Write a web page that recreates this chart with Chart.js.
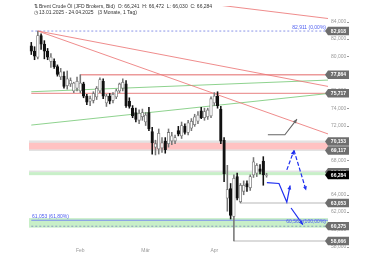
<!DOCTYPE html>
<html>
<head>
<meta charset="utf-8">
<script src="https://cdn.jsdelivr.net/npm/chart.js@4.4.1/dist/chart.umd.min.js"></script>
<style>
  html, body { margin: 0; padding: 0; background: #fff; }
  canvas { display: block; }
</style>
</head>
<body>
<canvas id="chart" width="380" height="254"></canvas>
<script>
// trading days 13.01.2025 - 24.04.2025
const dates = [
  "13.01", "14.01", "15.01", "16.01", "17.01", "20.01", "21.01", "22.01", "23.01", "24.01",
  "27.01", "28.01", "29.01", "30.01", "31.01",
  "03.02", "04.02", "05.02", "06.02", "07.02", "10.02", "11.02", "12.02", "13.02", "14.02",
  "17.02", "18.02", "19.02", "20.02", "21.02", "24.02", "25.02", "26.02", "27.02", "28.02",
  "03.03", "04.03", "05.03", "06.03", "07.03", "10.03", "11.03", "12.03", "13.03", "14.03",
  "17.03", "18.03", "19.03", "20.03", "21.03", "24.03", "25.03", "26.03", "27.03", "28.03", "31.03",
  "01.04", "02.04", "03.04", "04.04", "07.04", "08.04", "09.04", "10.04", "11.04",
  "14.04", "15.04", "16.04", "17.04", "18.04", "22.04", "23.04", "24.04"
];
const opens = [
  81.2, 80.6, 79.9, 82.4, 81.4, 80.6, 79.4, 79.4, 78.8, 77.6,
  77.7, 76.6, 76.8, 76.0, 76.3, 76.0, 76.8, 75.4, 74.8, 74.9,
  75.3, 76.0, 77.1, 74.6, 75.4, 74.9, 75.3, 76.0, 76.3, 76.8,
  74.8, 74.0, 73.5, 72.6, 73.0, 72.4, 73.5, 71.3, 69.5, 69.3,
  69.4, 70.2, 69.9, 70.2, 70.2, 71.4, 70.8, 71.9, 71.2, 71.7,
  72.1, 72.5, 73.7, 72.9, 73.0, 73.1, 74.6, 75.4, 73.9, 70.3,
  63.6, 64.7, 61.5, 66.1, 63.2, 64.4, 65.3, 64.8, 66.3, 66.5,
  67.0, 67.9, 66.241
];
const highs = [
  81.6, 81.1, 82.918, 82.6, 81.8, 80.9, 80.3, 79.7, 79.0, 78.6,
  78.2, 78.3, 77.5, 77.0, 77.6, 77.864, 77.0, 75.6, 75.4, 75.9,
  76.5, 77.5, 77.4, 75.6, 75.7, 75.8, 76.2, 76.9, 77.4, 77.2,
  75.2, 74.3, 74.0, 73.8, 73.9, 73.5, 74.1, 71.8, 70.3, 71.6,
  70.6, 70.6, 71.6, 71.2, 70.9, 71.9, 72.4, 72.2, 72.6, 72.8,
  73.3, 73.6, 74.1, 74.0, 74.0, 75.3, 75.8, 75.9, 74.2, 70.6,
  67.4, 65.3, 66.3, 66.5, 65.3, 65.6, 65.6, 66.3, 68.3, 67.6,
  67.5, 68.4, 66.472
];
const lows = [
  80.2, 79.6, 79.7, 80.8, 79.7, 79.6, 78.7, 78.6, 77.7, 77.3,
  76.3, 76.2, 76.5, 75.8, 76.0, 75.8, 75.2, 74.4, 74.3, 74.6,
  75.0, 75.8, 75.1, 74.2, 74.5, 74.6, 75.1, 75.8, 76.0, 74.1,
  74.0, 72.9, 72.4, 72.2, 72.6, 72.0, 71.4, 68.7, 68.6, 68.7,
  68.9, 68.8, 69.5, 69.8, 69.9, 70.8, 70.5, 71.0, 70.9, 71.4,
  71.9, 72.2, 72.8, 72.6, 72.7, 72.9, 74.3, 74.0, 69.9, 65.5,
  62.1, 61.2, 58.666, 63.4, 63.053, 64.0, 64.4, 64.5, 66.0, 66.1,
  66.4, 65.1, 66.030
];
const closes = [
  80.6, 80.0, 82.4, 81.4, 80.6, 79.9, 79.9, 78.8, 77.9, 78.2,
  76.5, 77.4, 77.2, 76.9, 77.1, 76.9, 75.4, 74.7, 75.1, 75.7,
  76.3, 77.3, 75.4, 75.4, 74.8, 75.6, 76.0, 76.8, 77.0, 74.3,
  74.2, 73.1, 72.7, 73.4, 73.5, 73.2, 71.6, 70.0, 69.9, 71.1,
  70.0, 69.2, 71.2, 70.8, 70.6, 71.0, 72.0, 71.2, 72.3, 72.5,
  73.0, 73.2, 72.9, 73.6, 73.8, 75.1, 75.4, 74.3, 70.2, 66.4,
  64.6, 61.6, 65.9, 63.6, 65.1, 65.1, 64.9, 66.1, 67.8, 67.4,
  66.7, 66.3, 66.284
];

const monthLabels = ["Feb", "Mär", "Apr"];
const monthStarts = ["03.02", "03.03", "01.04"];
const yTicks = [58, 60, 62, 64, 66, 68, 70, 72, 74, 76, 78, 80, 82, 84];

// price levels shown as boxes on the right axis
const levelValues = [82.918, 77.864, 75.717, 70.153, 69.117, 66.617, 63.053, 60.375, 58.666];
const lastPrice = 66.284;

// drawn zones and lines (index, price)
const resistanceZone = [70.153, 69.117];
const supportZone = [66.617, 66.264];
const fibZone = [61.3, 60.2];
const fib0 = 82.911;
const fib618 = 61.053;
const fib100 = 60.565;
const redLevels = [[15, 77.864], [0, 75.717]];
const grayLevels = [[64, 63.053], [62, 58.666]];
const redTrends = [
  [[2, 82.918], [91, 76.5]],
  [[2, 82.918], [91, 71.0]],
  [[50, 86.25], [91, 84.35]]
];
const greenTrends = [
  [[0, 75.9], [91, 77.25]],
  [[0, 72.05], [91, 75.7]]
];
const grayArrow = [[72.4, 70.93], [77.6, 70.93], [81.3, 72.73]];
const blueArrow1 = [[72.1, 65.4], [75.8, 65.3], [78.2, 63.15], [79.2, 65.07]];
const blueArrow2 = [[79.5, 62.47], [83.1, 60.55]];
const dashUp = [[78.2, 66.87], [80.4, 69.12]];
const dashDown = [[80.4, 69.12], [84.1, 64.5]];

const fmt = v => v.toFixed(3).replace(".", ",");
const pts = arr => arr.map(p => ({ x: p[0], y: p[1] }));
const FONT = "'Liberation Sans', Arial, sans-serif";

function lineSet(points, color, width, extra) {
  return Object.assign({
    type: "line", data: pts(points), borderColor: color, borderWidth: width,
    pointRadius: 0, tension: 0, fill: false, order: 3
  }, extra || {});
}

const datasets = [];
redTrends.forEach(t => datasets.push(lineSet(t, "rgba(236,120,120,0.85)", 1)));
greenTrends.forEach(t => datasets.push(lineSet(t, "rgba(130,205,130,0.9)", 1)));

datasets.push({
  type: "bar",
  data: lows.map((l, i) => ({ x: i, y: [l, highs[i]] })),
  backgroundColor: closes.map((c, i) => c >= opens[i] ? "#777" : "#111"),
  barThickness: 0.9, grouped: false, order: 2
});
datasets.push({
  type: "bar",
  data: opens.map((o, i) => ({ x: i, y: [o, closes[i]] })),
  backgroundColor: closes.map((c, i) => c >= opens[i] ? "#fff" : "#111"),
  borderColor: closes.map((c, i) => c >= opens[i] ? "#777" : "#111"),
  borderWidth: 0.8, borderSkipped: false,
  barThickness: 2.6, grouped: false, order: 1
});

datasets.push(lineSet(grayArrow, "#666", 1.1, { order: 0, arrow: true }));
datasets.push(lineSet(blueArrow1, "#1f2ff0", 1.2, { order: 0, arrow: true }));
datasets.push(lineSet(blueArrow2, "#1f2ff0", 1.2, { order: 0, arrow: true }));
datasets.push(lineSet(dashUp, "#1f2ff0", 1.2, { order: 0, arrow: true, borderDash: [4, 2] }));
datasets.push(lineSet(dashDown, "#1f2ff0", 1.2, { order: 0, arrow: true, borderDash: [4, 2] }));

const overlay = {
  id: "overlay",
  beforeDatasetsDraw(chart) {
    const { ctx, chartArea: a, scales: { x, y } } = chart;
    ctx.save();
    const band = (top, bottom, color) => {
      const y1 = y.getPixelForValue(top), y2 = y.getPixelForValue(bottom);
      ctx.fillStyle = color;
      ctx.fillRect(a.left, y1, a.right - a.left, y2 - y1);
    };
    const hline = (from, v, color, w, dash) => {
      const py = y.getPixelForValue(v);
      ctx.strokeStyle = color; ctx.lineWidth = w; ctx.setLineDash(dash || []);
      ctx.beginPath();
      ctx.moveTo(Math.max(a.left, x.getPixelForValue(from)), py);
      ctx.lineTo(a.right, py); ctx.stroke();
      ctx.setLineDash([]);
    };
    // resistance zone: grey edges, red core
    band(resistanceZone[0] + 0.12, resistanceZone[1] - 0.06, "#e2e2e2");
    band(resistanceZone[0] - 0.15, resistanceZone[1] + 0.12, "#ffc2c2");
    // support zone
    band(supportZone[0] + 0.18, supportZone[0], "#e2e2e2");
    band(supportZone[0], supportZone[1], "#c8efc8");
    // fib zone
    band(fibZone[0], fibZone[1], "#c8efc8");
    hline(0, fib618, "#7a8cf0", 1.2);
    hline(0, fib100 - 0.2, "#8a9ac0", 1, [2, 2]);
    hline(0, fib0, "#8a94e8", 1, [2, 2]);
    redLevels.forEach(l => hline(l[0], l[1], "#ec9a9a", 1.3));
    grayLevels.forEach(l => hline(l[0], l[1], "#cfcfcf", 1.5));
    ctx.restore();
  },
  afterDatasetsDraw(chart) {
    const { ctx } = chart;
    ctx.save();
    chart.data.datasets.forEach((ds, i) => {
      if (!ds.arrow) return;
      const m = chart.getDatasetMeta(i).data;
      const p1 = m[m.length - 2], p2 = m[m.length - 1];
      const ang = Math.atan2(p2.y - p1.y, p2.x - p1.x);
      const s = 4.5;
      ctx.fillStyle = ds.borderColor;
      ctx.beginPath();
      ctx.moveTo(p2.x, p2.y);
      ctx.lineTo(p2.x - s * Math.cos(ang - 0.45), p2.y - s * Math.sin(ang - 0.45));
      ctx.lineTo(p2.x - s * Math.cos(ang + 0.45), p2.y - s * Math.sin(ang + 0.45));
      ctx.closePath(); ctx.fill();
    });
    ctx.restore();
  },
  afterDraw(chart) {
    const { ctx, chartArea: a, scales: { y } } = chart;
    ctx.save();
    // fib labels
    ctx.font = "5px " + FONT;
    ctx.fillStyle = "#4c5cf0";
    ctx.textAlign = "left";
    ctx.fillText(fmt(fib618) + " (61,80%)", a.left + 3, y.getPixelForValue(fib618) - 2);
    ctx.textAlign = "right";
    ctx.fillText(fmt(fib0) + " (0,00%)", a.right - 2, y.getPixelForValue(fib0) - 2);
    ctx.fillText(fmt(fib100) + " (100,00%)", a.right - 2, y.getPixelForValue(fib100) - 1);
    // tick dashes
    ctx.strokeStyle = "#999"; ctx.lineWidth = 1;
    yTicks.forEach(v => {
      const py = Math.round(y.getPixelForValue(v)) + 0.5;
      ctx.beginPath(); ctx.moveTo(a.right + 19, py); ctx.lineTo(a.right + 21, py); ctx.stroke();
    });
    // price boxes
    const box = (v, fill) => {
      const py = y.getPixelForValue(v);
      const l = a.right, r = a.right + 21, h = 4.2;
      ctx.fillStyle = fill;
      ctx.beginPath();
      ctx.moveTo(l - 3, py); ctx.lineTo(l, py - h); ctx.lineTo(r, py - h);
      ctx.lineTo(r, py + h); ctx.lineTo(l, py + h); ctx.closePath(); ctx.fill();
      ctx.fillStyle = "#fff"; ctx.font = "bold 5px " + FONT;
      ctx.textAlign = "center"; ctx.textBaseline = "middle";
      ctx.fillText(fmt(v), (l + r) / 2, py + 0.3);
    };
    levelValues.forEach(v => box(v, "#6e6e6e"));
    box(lastPrice, "#000");
    // header
    ctx.textBaseline = "alphabetic"; ctx.textAlign = "left";
    ctx.fillStyle = "#333"; ctx.font = "5px " + FONT;
    ctx.fillText("⇅", 34, 7.5);
    ctx.fillText("Brent Crude Öl (JFD Brokers, Bid)  O: 66,241  H: 66,472  L: 66,030  C: 66,284", 39, 7.5);
    ctx.fillText("◷", 34, 14);
    ctx.fillText("13.01.2025 - 24.04.2025   (3 Monate, 1 Tag)", 39, 14);
    ctx.restore();
  }
};

new Chart(document.getElementById("chart"), {
  type: "bar",
  data: { datasets: datasets },
  options: {
    responsive: false,
    animation: false,
    layout: { padding: { left: 29, top: 0, right: 0, bottom: 0 } },
    plugins: { legend: { display: false }, tooltip: { enabled: false } },
    scales: {
      x: {
        type: "linear", min: -0.7, max: 90.8, offset: false,
        grid: { display: false, drawTicks: false }, border: { display: false },
        afterBuildTicks: s => { s.ticks = monthStarts.map(d => ({ value: dates.indexOf(d) })); },
        afterFit: s => { s.height = 7; },
        ticks: {
          padding: 1, color: "#999", font: { size: 5, family: FONT }, maxRotation: 0, autoSkip: false,
          callback: v => monthLabels[monthStarts.map(d => dates.indexOf(d)).indexOf(v)]
        }
      },
      y: {
        position: "right", min: 57.966, max: 85.803,
        grid: { display: false, drawTicks: false }, border: { display: false },
        afterBuildTicks: s => { s.ticks = yTicks.map(v => ({ value: v })); },
        afterFit: s => { s.width = 52; },
        ticks: { padding: 3, color: "#999", font: { size: 5, family: FONT }, callback: v => fmt(v) }
      }
    }
  },
  plugins: [overlay]
});
</script>
</body>
</html>
